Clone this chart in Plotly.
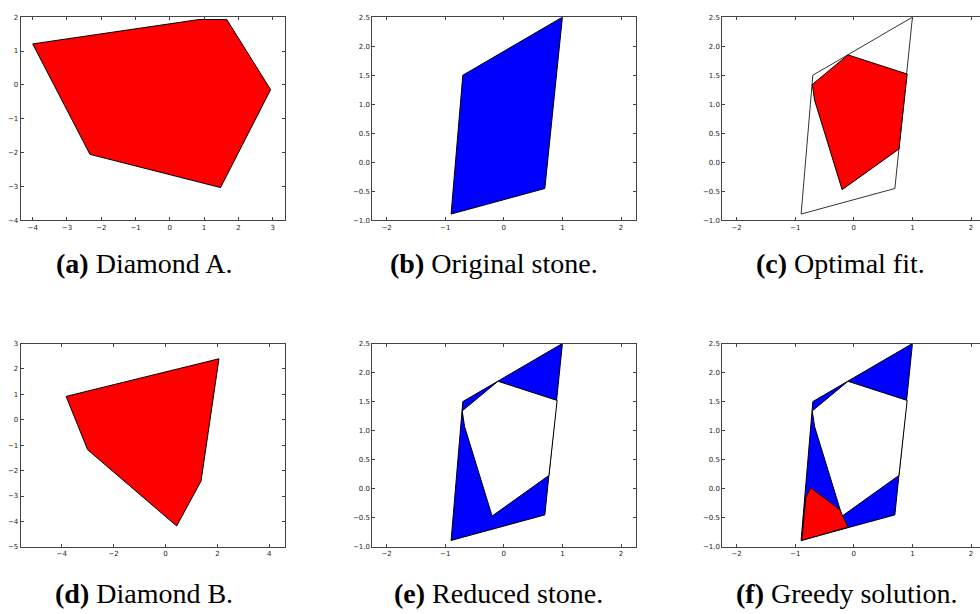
import plotly.graph_objects as go

# ---------------- data ----------------
# (a) Diamond A
DIAMOND_A_X = [-4.00, 0.86, 1.66, 2.94, 1.48, -2.33]
DIAMOND_A_Y = [1.21, 1.93, 1.93, -0.14, -3.03, -2.05]
# (d) Diamond B
DIAMOND_B_X = [-3.83, 2.06, 1.37, 0.43, -3.00]
DIAMOND_B_Y = [0.92, 2.40, -2.41, -4.18, -1.18]
# (b) Original stone
STONE_X = [-0.90, -0.70, 1.00, 0.70]
STONE_Y = [-0.89, 1.50, 2.50, -0.45]
# (c) Optimal fit of diamond A inside the stone
FIT_X = [-0.20, -0.67, -0.71, -0.10, 0.91, 0.77]
FIT_Y = [-0.47, 1.07, 1.34, 1.85, 1.52, 0.23]
# (f) Greedy placement of diamond B in the reduced stone
GREEDY_X = [-0.89, -0.82, -0.74, -0.24, -0.10]
GREEDY_Y = [-0.89, -0.15, 0.02, -0.36, -0.66]

CAPTIONS = [
    ("(a)", "Diamond A."), ("(b)", "Original stone."), ("(c)", "Optimal fit."),
    ("(d)", "Diamond B."), ("(e)", "Reduced stone."), ("(f)", "Greedy solution."),
]

X_TICKS_A = [-4, -3, -2, -1, 0, 1, 2, 3]
Y_TICKS_A = [-4, -3, -2, -1, 0, 1, 2]
X_TICKS_STONE = [-2, -1, 0, 1, 2]
Y_TICKS_STONE = [-1.0, -0.5, 0.0, 0.5, 1.0, 1.5, 2.0, 2.5]
X_TICKS_B = [-4, -2, 0, 2, 4]
Y_TICKS_B = [-5, -4, -3, -2, -1, 0, 1, 2, 3]

# ---------------- layout helpers ----------------
W, H = 980, 614
RED, BLUE = "#ff0000", "#0000ff"
AX = "#444444"

# pixel boxes of the six panels: (left, right, top, bottom)
BOXES = [
    (20.7, 285.0, 13.3, 219.3),
    (372.3, 636.0, 13.3, 219.3),
    (722.3, 980.0, 13.3, 219.3),
    (20.7, 285.0, 344.0, 550.0),
    (372.3, 636.0, 344.0, 550.0),
    (722.3, 980.0, 344.0, 550.0),
]
XRANGES = [[-4.35, 3.36], [-2.245, 2.256], [-2.245, 2.153],
           [-5.58, 4.605], [-2.245, 2.256], [-2.245, 2.153]]
YRANGES = [[-4, 2], [-1, 2.5], [-1, 2.5], [-5, 3], [-1, 2.5], [-1, 2.5]]
XTICKS = [X_TICKS_A, X_TICKS_STONE, X_TICKS_STONE, X_TICKS_B, X_TICKS_STONE, X_TICKS_STONE]
YTICKS = [Y_TICKS_A, Y_TICKS_STONE, Y_TICKS_STONE, Y_TICKS_B, Y_TICKS_STONE, Y_TICKS_STONE]
YFMT = ["d", ".1f", ".1f", "d", ".1f", ".1f"]

fig = go.Figure()


def poly(i, xs, ys, fill, line_color="black"):
    suffix = "" if i == 0 else str(i + 1)
    kw = dict(x=list(xs) + [xs[0]], y=list(ys) + [ys[0]], mode="lines",
              line=dict(color=line_color, width=1), hoverinfo="skip",
              showlegend=False, xaxis="x" + suffix, yaxis="y" + suffix)
    if fill is not None:
        kw.update(fill="toself", fillcolor=fill)
    fig.add_trace(go.Scatter(**kw))


# (a)
poly(0, DIAMOND_A_X, DIAMOND_A_Y, RED)
# (b)
poly(1, STONE_X, STONE_Y, BLUE)
# (c)
poly(2, STONE_X, STONE_Y, None, "#333333")
poly(2, FIT_X, FIT_Y, RED)
# (d)
poly(3, DIAMOND_B_X, DIAMOND_B_Y, RED)
# (e)
poly(4, STONE_X, STONE_Y, BLUE)
poly(4, FIT_X, FIT_Y, "white")
# (f)
poly(5, STONE_X, STONE_Y, BLUE)
poly(5, FIT_X, FIT_Y, "white")
poly(5, GREEDY_X, GREEDY_Y, RED)

tick_font = dict(family="DejaVu Sans", size=7, color="#222222")
layout = {}
for i, (l, r, t, b) in enumerate(BOXES):
    suffix = "" if i == 0 else str(i + 1)
    clipped = r >= W
    layout["xaxis" + suffix] = dict(
        domain=[l / W, min(r / W, 1.0)], range=XRANGES[i], anchor="y" + suffix,
        tickvals=XTICKS[i], ticks="inside", ticklen=3, tickcolor=AX,
        showline=True, linecolor=AX, linewidth=1, mirror="allticks",
        showgrid=False, zeroline=False, tickfont=tick_font, fixedrange=True,
    )
    layout["yaxis" + suffix] = dict(
        domain=[1 - b / H, 1 - t / H], range=YRANGES[i], anchor="x" + suffix,
        tickvals=YTICKS[i], tickformat=YFMT[i], ticks="inside", ticklen=3,
        tickcolor=AX, showline=True, linecolor=AX, linewidth=1,
        mirror=False if clipped else "allticks",
        showgrid=False, zeroline=False, tickfont=tick_font, fixedrange=True,
    )

CAP_X = [144, 494, 840, 144, 498, 847]
CAP_Y = [263, 263, 263, 597, 597, 597]
annotations = []
for (lab, txt), cx, cy in zip(CAPTIONS, CAP_X, CAP_Y):
    annotations.append(dict(
        x=cx / W, y=1 - cy / H, xref="paper", yref="paper",
        xanchor="center", yanchor="middle", showarrow=False,
        text="<b>%s</b> %s" % (lab, txt),
        font=dict(family="Liberation Serif", size=28, color="black"),
    ))

fig.update_layout(
    width=W, height=H, margin=dict(l=0, r=0, t=0, b=0),
    paper_bgcolor="white", plot_bgcolor="white",
    annotations=annotations, showlegend=False, **layout,
)

fig.write_html(
    "out.html",
    config={"displayModeBar": False, "staticPlot": True},
    post_script="document.body.style.margin='0';document.body.style.overflow='hidden';",
)
